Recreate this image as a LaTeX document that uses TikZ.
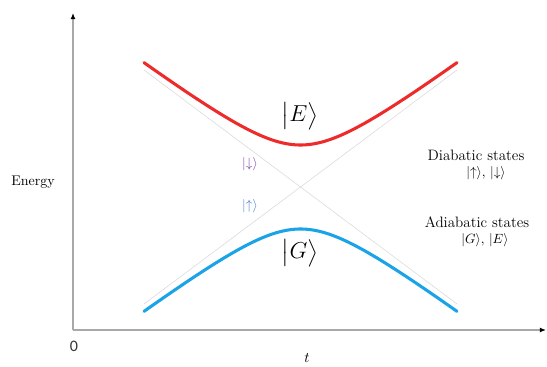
\documentclass[tikz,border=0pt]{standalone}
\usepackage{amsmath,amssymb}
\usepackage{fontspec}
\usepackage{xcolor}
\usepackage{tikz}
\usetikzlibrary{
  arrows.meta,
  positioning
}
\newfontfamily\calfont{Carlito}
\definecolor{levelRed}{HTML}{EE2B2B}
\definecolor{levelBlue}{HTML}{1AA3E6}
\definecolor{ketPurple}{HTML}{7A3FA0}
\definecolor{ketBlue}{HTML}{4A7CC8}
\definecolor{axisGray}{HTML}{A8A8A8}

\begin{document}
\begin{tikzpicture}[
  x=0.75pt, y=-0.75pt,
  axis/.style={
    draw=axisGray,
    line width=0.9pt,
    -{Latex[length=1.6mm,width=1.3mm,black]}
  },
  level/.style={line width=2.3pt, line cap=round, smooth},
  diabatic/.style={draw=gray!28, line width=0.45pt},
  label/.style={font=\fontsize{10.5}{12}\selectfont, inner sep=1pt},
  legend/.style={font=\fontsize{11.3}{13}\selectfont, inner sep=1pt},
  smallket/.style={font=\normalsize, inner sep=1pt},
  bigket/.style={font=\LARGE, inner sep=0pt}
]
\useasboundingbox (0,0) rectangle (547,367);

% axes
\coordinate (origin) at (73,330);
\coordinate (ytop) at (73,13);
\coordinate (xend) at (546,330);
\draw[axis] (origin) -- (ytop);
\draw[axis] (origin) -- (xend);

\node[label] (energy) at (33,182) {Energy};
\node[font=\calfont\large, text=black!80, inner sep=0pt] (zero) at (74,346) {0};
\node[legend] (time) at (307,358) {$t$};

% diabatic crossing
\coordinate (dl) at (144,70);
\coordinate (dr) at (457,304);
\coordinate (ul) at (144,304);
\coordinate (ur) at (457,70);
\draw[diabatic] (dl) -- (dr);
\draw[diabatic] (ul) -- (ur);

% adiabatic levels
\draw[level, levelRed] plot[domain=144:457, samples=80]
  (\x, {187 - sqrt((0.748*(\x-300.5))^2 + 42^2)});
\draw[level, levelBlue] plot[domain=144:457, samples=80]
  (\x, {187 + sqrt((0.748*(\x-300.5))^2 + 42^2)});

\node[bigket] (ketE) at (300,116) {$\big|E\big\rangle$};
\node[bigket] (ketG) at (300,253) {$\big|G\big\rangle$};
\node[smallket, text=ketPurple] (ketdown) at (250,164) {$|{\downarrow}\rangle$};
\node[smallket, text=ketBlue] (ketup) at (250,206) {$|{\uparrow}\rangle$};

% legend
\node[legend] (diab) at (476,155) {Diabatic states};
\node[smallket] (diabkets) at (486,173)
  {$|{\uparrow}\rangle$, $|{\downarrow}\rangle$};
\node[legend] (adiab) at (477,222) {Adiabatic states};
\node[smallket] (adiabkets) at (485,240)
  {$|G\rangle$, $|E\rangle$};

\end{tikzpicture}
\end{document}
